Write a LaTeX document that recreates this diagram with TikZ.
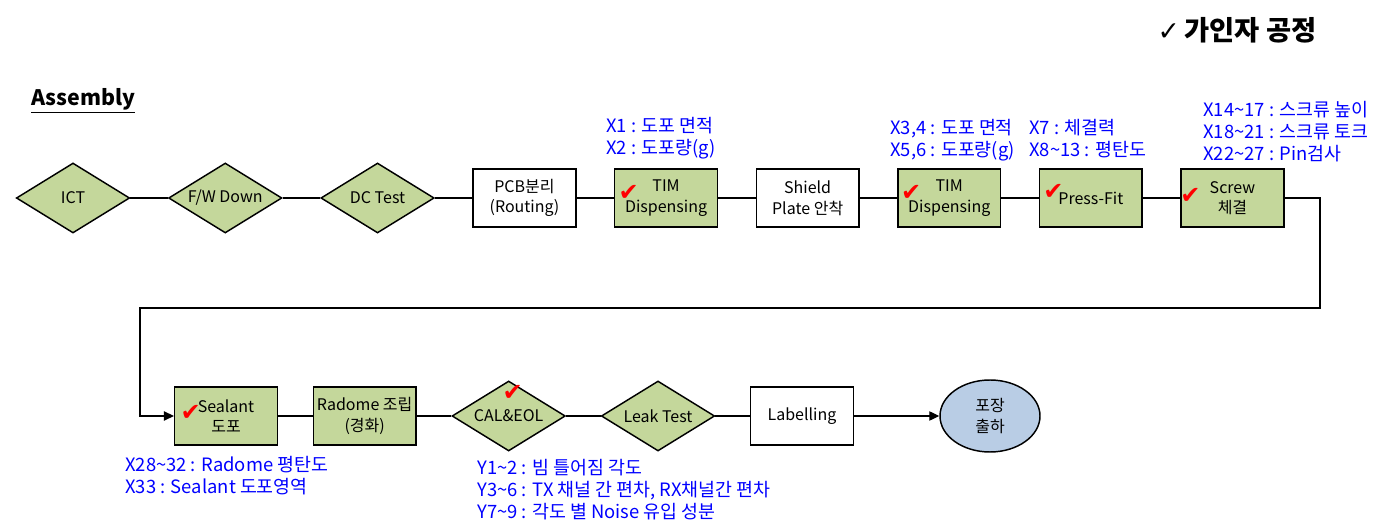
\documentclass[tikz,border=0pt]{standalone}
\usepackage{fontspec}
\setmainfont{Noto Sans CJK KR}
\newfontfamily\symfont{DejaVu Sans}
\usetikzlibrary{shapes.geometric, arrows.meta, positioning}
\definecolor{procgreen}{HTML}{C4D79B}
\definecolor{endblue}{HTML}{B9CDE5}
\definecolor{specblue}{HTML}{0000FF}

\begin{document}
\begin{tikzpicture}[
    x = 0.75pt, y = -0.75pt,
    node distance = 28.1pt,
    box/.style = {
        rectangle, draw=black, line width=1.1pt, fill=white,
        minimum width=77pt, minimum height=43.5pt,
        align=center, inner sep=1pt,
        font=\fontsize{12}{15.5}\selectfont
    },
    gbox/.style = {box, fill=procgreen},
    test/.style = {
        diamond, aspect=1.6, draw=black, line width=1.1pt, fill=procgreen,
        minimum width=85pt, minimum height=52.5pt,
        align=center, inner sep=0pt,
        font=\fontsize{12}{15.5}\selectfont
    },
    finish/.style = {
        ellipse, draw=black, line width=1.1pt, fill=endblue,
        minimum width=75pt, minimum height=54pt,
        align=center, inner sep=0pt,
        font=\fontsize{12}{15.5}\selectfont
    },
    spec/.style = {
        text=specblue, align=left, anchor=north west, inner sep=0pt,
        font=\fontsize{13.8}{16.5}\selectfont
    },
    chk/.style = {text=red, inner sep=0pt, font=\symfont\fontsize{18}{18}\selectfont},
    link/.style = {line width=0.9pt, black},
    arrow/.style = {link, -{Triangle[length=7.5pt, width=7pt]}}
]
\useasboundingbox (0,0) rectangle (1378,530);

% Titles
\node[font=\bfseries\fontsize{20.5}{24}\selectfont] (title) at (1237,30)
    {{\symfont\fontsize{20}{22}\selectfont ✓}\,가인자 공정};
\node[anchor=west, inner sep=0pt, font=\bfseries\fontsize{16}{19}\selectfont] (asm) at (31,101)
    {\underline{Assembly}};

% Row 1
\node[test] (ict) at (73,198) {ICT};
\node[test, right=of ict] (fw) {F/W Down};
\node[test, right=of fw] (dc) {DC Test};
\node[box, right=of dc] (pcb) {PCB분리\\(Routing)};
\node[gbox, right=of pcb] (tim1) {TIM\\Dispensing};
\node[box, right=of tim1] (shield) {Shield\\Plate 안착};
\node[gbox, right=of shield] (tim2) {TIM\\Dispensing};
\node[gbox, right=of tim2] (press) {Press-Fit};
\node[gbox, right=of press] (screw) {Screw\\체결};

% Row 2
\begin{scope}[node distance=25.9pt]
\node[gbox] (seal) at (226,416) {Sealant\\도포};
\node[gbox, right=of seal] (radome) {Radome 조립\\(경화)};
\node[test, right=of radome] (cal) {CAL\&EOL};
\node[test, right=of cal] (leak) {Leak Test};
\node[box, right=of leak] (label) {Labelling};
\node[finish, right=63.9pt of label] (pack) {포장\\출하};
\end{scope}

% Checks
\node[chk] (c1) at ([xshift=11pt, yshift=4pt]tim1.west) {✔};
\node[chk] (c2) at ([xshift=10.5pt, yshift=3.5pt]tim2.west) {✔};
\node[chk] (c3) at ([xshift=11pt, yshift=4.5pt]press.west) {✔};
\node[chk] (c4) at ([xshift=7.5pt, yshift=1.5pt]screw.west) {✔};
\node[chk] (c5) at ([xshift=12.5pt, yshift=2pt]seal.west) {✔};
\node[chk] (c6) at ([xshift=3pt, yshift=17pt]cal.center) {✔};

% Specs
\node[spec] (s1) at (606,117) {X1 : 도포 면적\\X2 : 도포량(g)};
\node[spec] (s2) at (890,119) {X3,4 : 도포 면적\\X5,6 : 도포량(g)};
\node[spec] (s3) at (1029,119) {X7 : 체결력\\X8\textasciitilde13 : 평탄도};
\node[spec] (s4) at (1203,101)
    {X14\textasciitilde17 : 스크류 높이\\X18\textasciitilde21 : 스크류 토크\\X22\textasciitilde27 : Pin검사};
\node[spec] (s5) at (125,456)
    {X28\textasciitilde32 : Radome 평탄도\\X33 : Sealant 도포영역};
\node[spec] (s6) at (477,459)
    {Y1\textasciitilde2 : 빔 틀어짐 각도\\Y3\textasciitilde6 : TX 채널 간 편차, RX채널간 편차\\Y7\textasciitilde9 : 각도 별 Noise 유입 성분};

% Links
\coordinate (turnR) at (1320,308);
\coordinate (turnL) at (140,308);
\draw[link] (ict) -- (fw);
\draw[link] (fw) -- (dc);
\draw[link] (dc) -- (pcb);
\draw[link] (pcb) -- (tim1);
\draw[link] (tim1) -- (shield);
\draw[link] (shield) -- (tim2);
\draw[link] (tim2) -- (press);
\draw[link] (press) -- (screw);
\draw[arrow] (screw.east) -| (turnR) -- (turnL) |- (seal.west);
\draw[link] (seal) -- (radome);
\draw[link] (radome) -- (cal);
\draw[link] (cal) -- (leak);
\draw[link] (leak) -- (label);
\draw[arrow] (label) -- (pack);

\end{tikzpicture}
\end{document}
